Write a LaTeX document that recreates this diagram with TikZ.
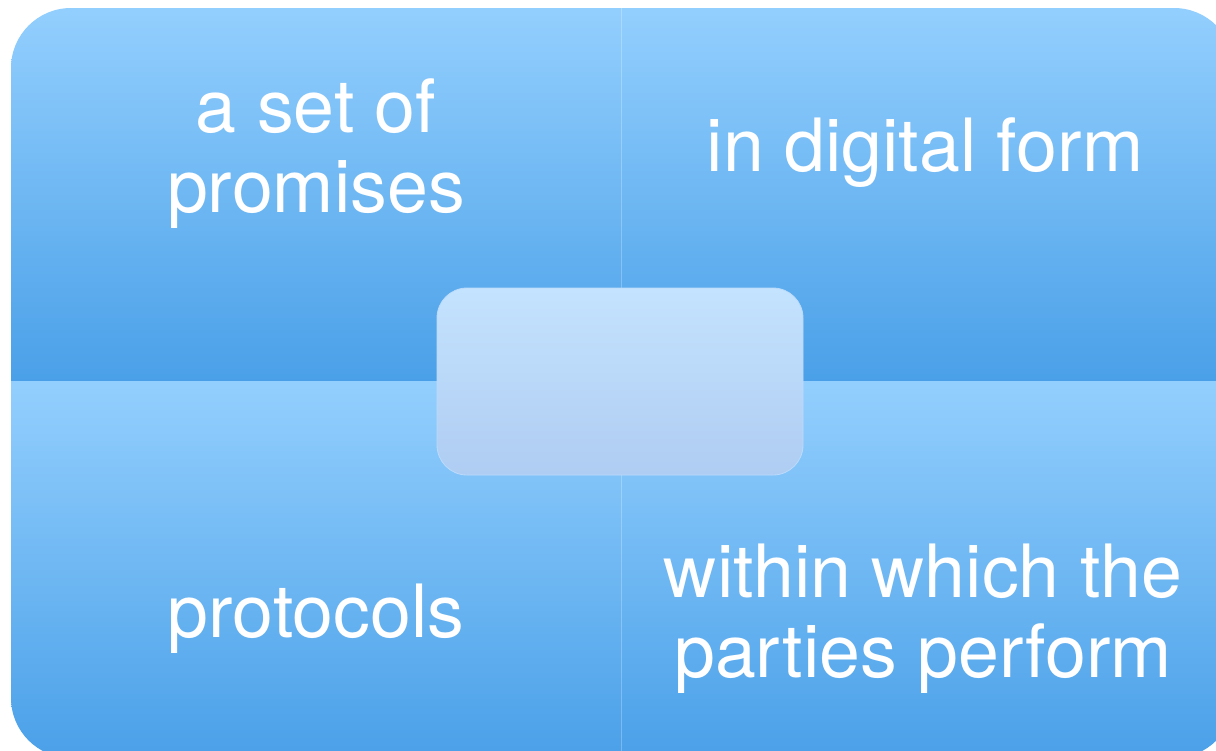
\documentclass[tikz,border=0pt]{standalone}
\usepackage{fontspec}
\setmainfont{TeX Gyre Heros}
\definecolor{quadtop}{HTML}{93CFFE}
\definecolor{quadbot}{HTML}{4AA0E8}
\definecolor{hubtop}{HTML}{C4E3FE}
\definecolor{hubbot}{HTML}{AFCCF2}
\definecolor{hubline}{HTML}{BCDBFB}

\begin{document}
\begin{tikzpicture}[x=1pt,y=-1pt,
  quad/.style={top color=quadtop,bottom color=quadbot},
  label node/.style={text=white,align=center,anchor=base,inner sep=0pt,
    font=\fontsize{73.5}{80}\selectfont},
  hub node/.style={rectangle,rounded corners=30pt,draw=hubline,line width=0.8pt,
    top color=hubtop,bottom color=hubbot,minimum width=366pt,minimum height=187pt,inner sep=0pt}]

  \useasboundingbox (0,0) rectangle (1216,750);
  \clip (0,0) rectangle (1216,750);

  % four quarters inside the rounded frame
  \begin{scope}
    \clip[rounded corners=60pt] (11,8) rectangle (1234,758);
    \shade[quad] (11,8) rectangle (621,381);
    \shade[quad] (621,8) rectangle (1234,381);
    \shade[quad] (11,381) rectangle (621,758);
    \shade[quad] (621,381) rectangle (1234,758);
    \draw[white,opacity=0.25,line width=1pt] (621,8) -- (621,758);
  \end{scope}

  % base anchor = last line
  \node[label node] (promises) at (316,212) {a set of\\promises};
  \node[label node] (digital) at (925,171) {in digital form};
  \node[label node] (protocols) at (316,637) {protocols};
  \node[label node] (perform) at (923,677) {within which the\\parties perform};

  \node[hub node] (hub) at (620,381.5) {};
\end{tikzpicture}
\end{document}
